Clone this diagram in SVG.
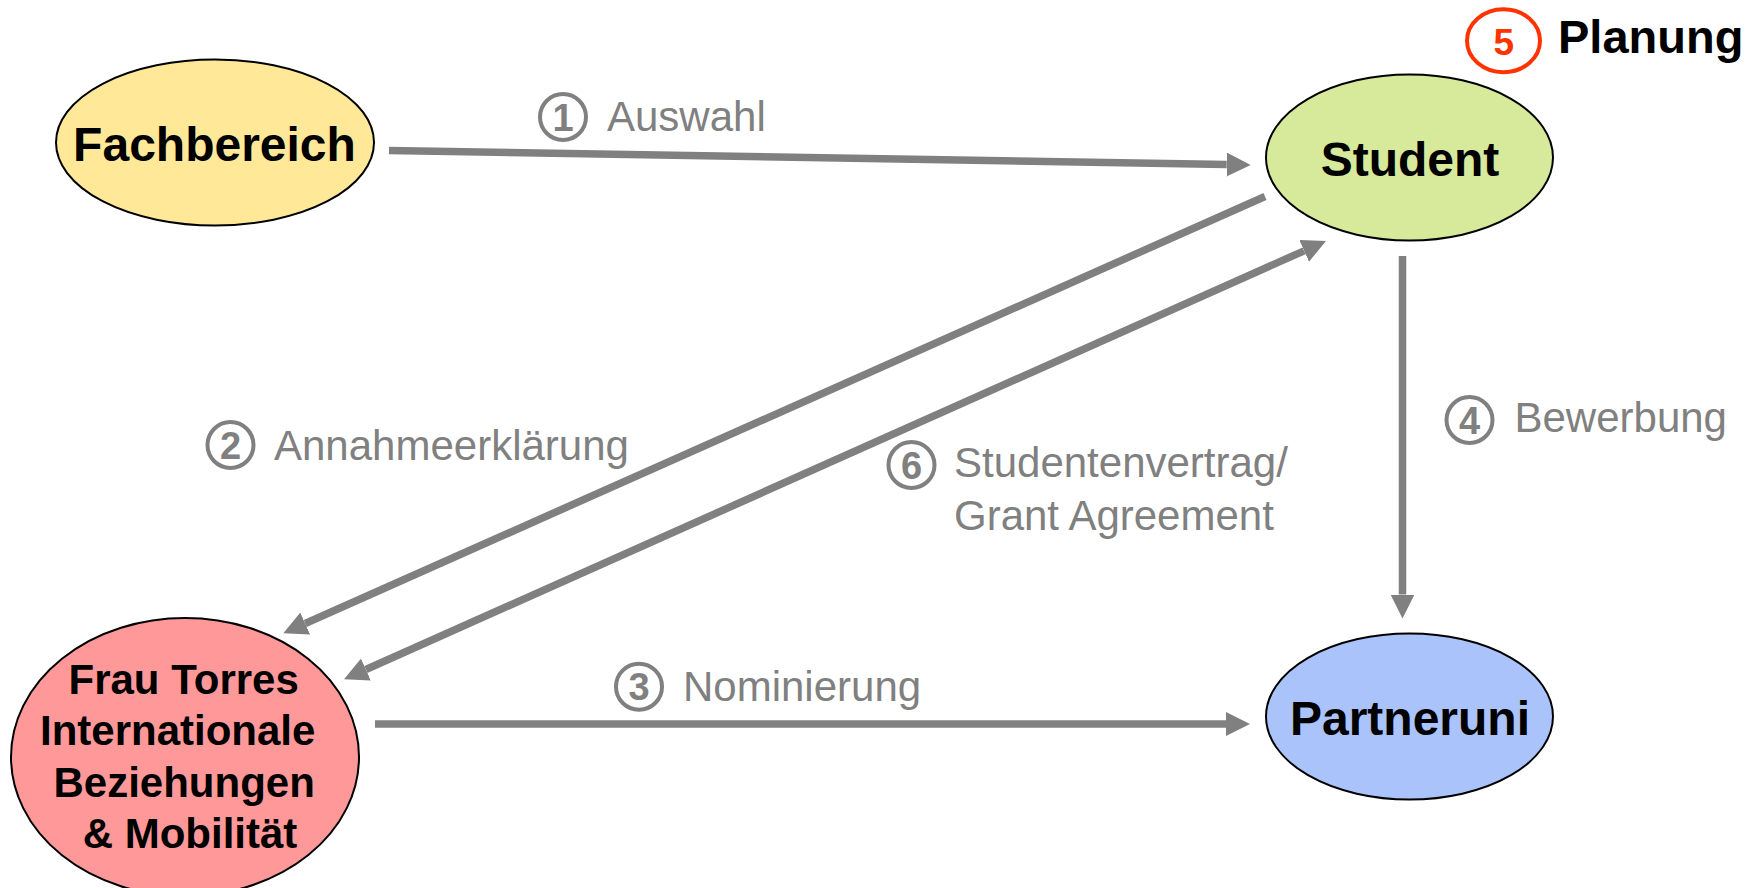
<svg xmlns="http://www.w3.org/2000/svg" width="1762" height="888" viewBox="0 0 1762 888">
  <style>
    .node { stroke: #000000; stroke-width: 2; }
    .ntext { font-family: "Liberation Sans", Arial, sans-serif; font-weight: bold; fill: #000000; text-anchor: middle; }
    .conn { stroke: #808080; stroke-width: 7.5; fill: none; }
    .lbl { font-family: "Liberation Sans", Arial, sans-serif; font-size: 42px; fill: #808080; }
    .num { font-family: "Liberation Sans", Arial, sans-serif; font-size: 38px; font-weight: bold; fill: #808080; text-anchor: middle; }
    .numc { fill: none; stroke: #808080; stroke-width: 4; }
  </style>
  <defs>
    <marker id="ah" markerUnits="userSpaceOnUse" markerWidth="24" markerHeight="24" refX="0" refY="12" orient="auto-start-reverse">
      <path d="M0,0 L24,12 L0,24 z" fill="#808080"/>
    </marker>
  </defs>
  <rect width="1762" height="888" fill="#ffffff"/>

  <g id="connectors">
    <line class="conn" x1="389" y1="150.5" x2="1226.7" y2="164.6" marker-end="url(#ah)"/>
    <line class="conn" x1="1265" y1="196.5" x2="305.2" y2="623.5" marker-end="url(#ah)"/>
    <line class="conn" x1="365.9" y1="669.5" x2="1304.1" y2="250.8" marker-start="url(#ah)" marker-end="url(#ah)"/>
    <line class="conn" x1="1402.5" y1="256" x2="1402.5" y2="594.5" marker-end="url(#ah)"/>
    <line class="conn" x1="375" y1="724" x2="1226" y2="724" marker-end="url(#ah)"/>
  </g>

  <g id="node-fachbereich">
    <ellipse class="node" cx="215" cy="142.5" rx="159" ry="83" fill="#FFE999"/>
    <text class="ntext" x="214.5" y="161" font-size="48">Fachbereich</text>
  </g>

  <g id="node-student">
    <ellipse class="node" cx="1409.5" cy="157.5" rx="143.5" ry="83" fill="#D7E99A"/>
    <text class="ntext" x="1410" y="176" font-size="48">Student</text>
  </g>

  <g id="node-partneruni">
    <ellipse class="node" cx="1409.5" cy="716.5" rx="143.5" ry="83" fill="#ABC3FB"/>
    <text class="ntext" x="1410" y="735" font-size="48">Partneruni</text>
  </g>

  <g id="node-torres">
    <ellipse class="node" cx="185" cy="757" rx="174" ry="139" fill="#FF9999"/>
    <text class="ntext" font-size="42">
      <tspan x="189.5" y="693.5">Frau Torres</tspan>
      <tspan x="183.5" y="745">Internationale</tspan>
      <tspan x="190" y="796.5">Beziehungen</tspan>
      <tspan x="190" y="848">&amp; Mobilität</tspan>
    </text>
  </g>

  <g id="planung">
    <ellipse cx="1503.5" cy="40.7" rx="36.5" ry="31.5" fill="none" stroke="#FF3300" stroke-width="4"/>
    <text x="1503.7" y="55" font-family="Liberation Sans, Arial, sans-serif" font-size="37" font-weight="bold" fill="#FF3300" text-anchor="middle">5</text>
    <text x="1558" y="53.3" font-family="Liberation Sans, Arial, sans-serif" font-size="47" font-weight="bold" fill="#000000">Planung</text>
  </g>

  <g id="label-1">
    <circle class="numc" cx="563" cy="117" r="23"/>
    <text class="num" x="563" y="130.5">1</text>
    <text class="lbl" x="607" y="130.7">Auswahl</text>
  </g>

  <g id="label-2">
    <circle class="numc" cx="230.5" cy="445" r="23"/>
    <text class="num" x="230.5" y="458.5">2</text>
    <text class="lbl" x="274" y="459.5">Annahmeerklärung</text>
  </g>

  <g id="label-3">
    <circle class="numc" cx="639" cy="686.7" r="23"/>
    <text class="num" x="639" y="700.2">3</text>
    <text class="lbl" x="683" y="700.5">Nominierung</text>
  </g>

  <g id="label-4">
    <circle class="numc" cx="1469.5" cy="420" r="23"/>
    <text class="num" x="1469.5" y="433.5">4</text>
    <text class="lbl" x="1514.5" y="432">Bewerbung</text>
  </g>

  <g id="label-6">
    <circle class="numc" cx="911.5" cy="465" r="23"/>
    <text class="num" x="911.5" y="478.5">6</text>
    <text class="lbl" x="954" y="477">Studentenvertrag/</text>
    <text class="lbl" x="954" y="529.5">Grant Agreement</text>
  </g>
</svg>
